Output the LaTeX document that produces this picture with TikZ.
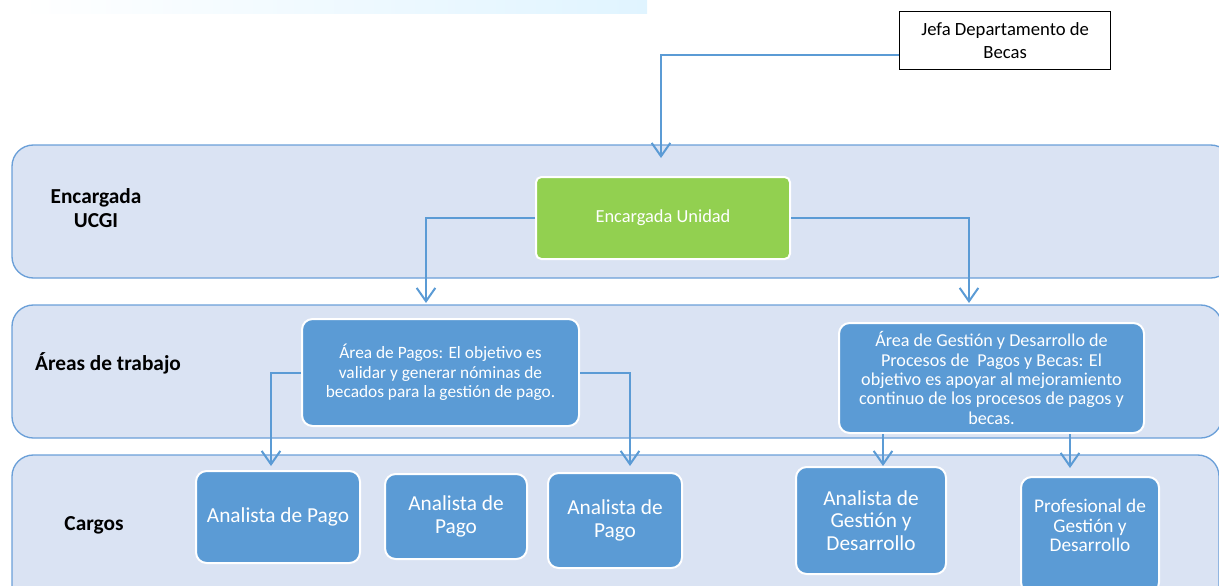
\documentclass[tikz,border=0pt]{standalone}
\usepackage{fontspec}
\setmainfont{Carlito}
\usetikzlibrary{arrows.meta,calc}
\definecolor{bandfill}{HTML}{DAE3F3}
\definecolor{bandline}{HTML}{6A9FD8}
\definecolor{boxblue}{HTML}{5B9BD5}
\definecolor{conncol}{HTML}{5B9BD5}
\definecolor{boxgreen}{HTML}{92D050}
\definecolor{stripcol}{HTML}{E0F4FF}
\begin{document}
\begin{tikzpicture}[x=0.75pt,y=-0.75pt,
  band/.style={draw=bandline,fill=bandfill,line width=1pt,rounded corners=16pt},
  lanelabel/.style={font=\fontsize{16}{18}\selectfont\bfseries,align=center,inner sep=0pt},
  bluebox/.style={draw=white,fill=boxblue,line width=1.5pt,rounded corners=8pt,text=white,align=center,inner sep=0pt,anchor=north west},
  conn/.style={draw=conncol,line width=1.5pt,-{Straight Barb[length=10pt,width=14pt,line width=1.5pt]}},
]
\useasboundingbox (0,0) rectangle (1219,585);
\clip (0,0) rectangle (1219,585);
% faint strip at top
\shade[left color=white,right color=stripcol] (20,0) rectangle (647,14);
% bands
\draw[band] (12,145) rectangle (1232,278);
\draw[band] (12,305) rectangle (1222,438);
\draw[band] (12,455) rectangle (1219,610);
% lane labels
\node[lanelabel] (l1) at (96,208) {Encargada\\UCGI};
\node[lanelabel] (l2) at (108,363) {Áreas de trabajo};
\node[lanelabel] (l3) at (94,525) {Cargos};
% top box
\node[draw=black,fill=white,line width=1pt,minimum width=211*0.75pt,minimum height=58*0.75pt,anchor=north west,align=center,inner sep=0pt,font=\fontsize{14}{17}\selectfont] (jefa) at (899,11) {Jefa Departamento de\\Becas};
% green box
\node[draw=white,fill=boxgreen,line width=1.5pt,rounded corners=4pt,text=white,anchor=north west,minimum width=254*0.75pt,minimum height=82*0.75pt,inner sep=0pt,font=\fontsize{13.8}{15}\selectfont] (eu) at (535,176) {Encargada Unidad};
% area boxes
\node[bluebox,minimum width=277*0.75pt,minimum height=107*0.75pt,font=\fontsize{13}{14.6}\selectfont] (ap) at (301,318) {Área de Pagos: El objetivo es\\validar y generar nóminas de\\becados para la gestión de pago.};
\node[bluebox,minimum width=305*0.75pt,minimum height=110*0.75pt,font=\fontsize{13.6}{14.6}\selectfont] (ag) at (838,322) {Área de Gestión y Desarrollo de\\Procesos de\ \ Pagos y Becas: El\\objetivo es apoyar al mejoramiento\\continuo de los procesos de pagos y\\becas.};
% cargos boxes
\node[bluebox,minimum width=164*0.75pt,minimum height=92*0.75pt,font=\fontsize{16}{17}\selectfont] (c1) at (195,470) {Analista de Pago};
\node[bluebox,minimum width=142*0.75pt,minimum height=85*0.75pt,font=\fontsize{16}{17}\selectfont] (c2) at (384,473) {Analista de\\Pago};
\node[bluebox,minimum width=134*0.75pt,minimum height=95*0.75pt,font=\fontsize{16}{17}\selectfont] (c3) at (547,472) {Analista de\\Pago};
\node[bluebox,minimum width=150*0.75pt,minimum height=107*0.75pt,font=\fontsize{16}{17}\selectfont] (c4) at (795,466) {Analista de\\Gestión y\\Desarrollo};
\node[bluebox,minimum width=138*0.75pt,minimum height=116*0.75pt,text depth=14pt,font=\fontsize{14.5}{14.6}\selectfont] (c5) at (1020,476) {Profesional de\\Gestión y\\Desarrollo};
% connector end points
\coordinate (t0) at (661,158);
\coordinate (t1) at (426,303);
\coordinate (t2) at (969,303);
\coordinate (t3) at (271,466);
\coordinate (t4) at (630,466);
\coordinate (t5) at (883,466);
\coordinate (t6) at (1070,468);
% connectors
\draw[conn] ($(jefa.south west)!0.25!(jefa.north west)$) -| (t0);
\draw[conn] (eu.west) -| (t1);
\draw[conn] (eu.east) -| (t2);
\draw[conn] (ap.west) -| (t3);
\draw[conn] (ap.east) -| (t4);
\draw[conn] (ag.south -| t5) -- (t5);
\draw[conn] (ag.south -| t6) -- (t6);
\end{tikzpicture}
\end{document}
